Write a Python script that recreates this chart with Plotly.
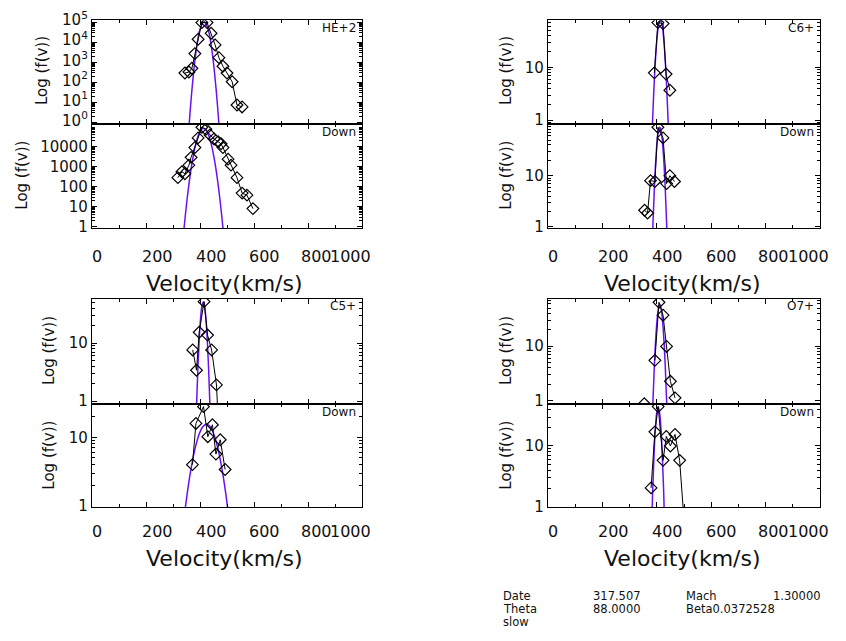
import plotly.graph_objects as go

# Body keeps its default 8px left/right margin; top/bottom margins are removed by post_script,
# so the page is exactly 846x641.
PAGE_W, PAGE_H, OFF_X = 846, 641, 8
W, H = PAGE_W - 2 * OFF_X, PAGE_H
FONT = "DejaVu Sans"
FIT_COLOR = "#6c10f4"
INK = "#111111"

# ---------------- data (velocity km/s, f(v)) ----------------
HE2_UP_V = [344, 359, 370, 381, 393, 407, 426, 441, 456, 470, 485, 500, 519, 537, 556]
HE2_UP_F = [290, 325, 500, 2700, 14000, 95000, 95000, 28000, 7300, 1700, 630, 290, 107, 7.4, 5.9]
HE2_UP_FIT_V = [340, 355, 370, 385, 400, 415, 430, 445, 460, 475, 490]
HE2_UP_FIT_F = [3e-5, 0.087, 40, 3200, 44000, 105000, 44000, 3200, 40, 0.087, 3e-5]

HE2_DN_V = [318, 333, 344, 359, 367, 381, 393, 407, 422, 437, 452, 467, 478, 485, 504, 515, 537, 556, 574, 596]
HE2_DN_F = [285, 560, 447, 1200, 2950, 9100, 27600, 94000, 75000, 39000, 24500, 17800, 14000, 9100, 2400, 1200, 285, 48, 38, 8.1]
HE2_DN_FIT_V = [323, 338, 353, 368, 383, 398, 413, 428, 443, 458, 473, 488, 503]
HE2_DN_FIT_F = [0.0014, 0.33, 29, 950, 11400, 50000, 83000, 50000, 11400, 950, 29, 0.33, 0.0014]

C6_UP_V = [391, 404, 423, 434, 448]
C6_UP_F = [7.9, 71, 68, 7.5, 3.7]
C6_UP_FIT_V = [377, 383, 389, 395, 401, 407, 413, 419, 425, 431, 437, 443, 449]
C6_UP_FIT_F = [0.079, 0.65, 3.6, 14, 37, 66, 79, 66, 37, 14, 3.6, 0.65, 0.079]

C6_DN_V = [355, 366, 377, 393, 404, 423, 436, 448, 465]
C6_DN_F = [2.1, 1.86, 8.0, 7.7, 89, 55, 7.0, 10, 7.7]
C6_DN_FIT_V = [376, 381, 386, 391, 396, 401, 406, 411, 416, 421, 426, 431, 436, 441, 446]
C6_DN_FIT_F = [0.019, 0.18, 1.2, 5.7, 19, 45, 75, 89, 75, 45, 19, 5.7, 1.2, 0.18, 0.019]

C5_UP_V = [373, 387, 397, 415, 428, 443, 461, 470]
C5_UP_F = [7.6, 3.4, 15.3, 51.5, 13.7, 7.6, 1.9, 0.26]
C5_UP_FIT_V = [377, 382, 387, 392, 397, 402, 407, 412, 417, 422, 427, 432, 437, 442, 447]
C5_UP_FIT_F = [0.014, 0.12, 0.78, 3.5, 11.4, 26, 43, 51, 43, 26, 11.4, 3.5, 0.78, 0.12, 0.014]

C5_DN_V = [372, 385, 413, 429, 446, 459, 475, 493]
C5_DN_F = [4.0, 15.9, 27.9, 10.2, 15.2, 5.7, 9.2, 3.4]
C5_DN_FIT_V = [319, 334, 349, 364, 379, 394, 409, 424, 439, 454, 469, 484, 499, 514, 529]
C5_DN_FIT_F = [0.10, 0.39, 1.19, 3.0, 6.2, 10.3, 14.0, 15.6, 14.0, 10.3, 6.2, 3.0, 1.19, 0.39, 0.10]

O7_UP_V = [354, None, 393, 408, 423, 436, 450, 467]
O7_UP_F = [0.88, None, 5.5, 64, 37, 9.9, 2.27, 1.13]
O7_UP_FIT_V = [376, 381, 386, 391, 396, 401, 406, 411, 416, 421, 426, 431, 436, 441, 446]
O7_UP_FIT_F = [0.021, 0.17, 1.02, 4.4, 13.5, 30, 49, 58, 49, 30, 13.5, 4.4, 1.02, 0.17, 0.021]

O7_DN_V = [379, 393, 405, 423, 435, 450, 467, 484, 505]
O7_DN_F = [2.04, 17.1, 44.6, 5.8, 14.4, 10, 15.5, 5.8, 0.3]
O7_DN_FIT_V = [375, 380, 385, 390, 395, 400, 405, 410, 415, 420, 425, 430, 435]
O7_DN_FIT_F = [0.038, 0.33, 1.9, 7.5, 20, 36, 44, 36, 20, 7.5, 1.9, 0.33, 0.038]

SPECIES = ["HE+2", "C6+", "C5+", "O7+"]
LOWER_LABEL = "Down"
X_TICKS = [0, 200, 400, 600, 800, 1000]
X_TICK_TEXT = ["0", "200", "400", "600", "800", "1000"]
X_TITLE = "Velocity(km/s)"
Y_TITLE = "Log (f(v))"
INFO_ROWS = [["Date", "317.507", "Mach", "1.30000"],
             ["Theta", "88.0000", "Beta0.0372528", ""],
             ["slow", "", "", ""]]


# ---------------- layout helpers (page pixels -> paper fractions) ----------------
def px_x(x):
    return (x - OFF_X) / W


def px_y(y):
    return 1 - y / H


LEFT = [px_x(92), px_x(362)]
RIGHT = [px_x(548), px_x(820)]
ROW1_UP = [px_y(117), px_y(9.5)]
ROW1_DN = [px_y(224), px_y(117)]
ROW2_UP = [px_y(405.5), px_y(297)]
ROW2_DN = [px_y(512), px_y(405.5)]

sup = lambda k: "10<sup>%d</sup>" % k

panels = [
    dict(v=HE2_UP_V, f=HE2_UP_F, fv=HE2_UP_FIT_V, ff=HE2_UP_FIT_F, xd=LEFT, yd=ROW1_UP,
         yr=[-0.097, 5.097], tv=[1, 10, 100, 1000, 1e4, 1e5], tt=[sup(k) for k in range(6)],
         label=SPECIES[0], lower=False, shift=-2),
    dict(v=HE2_DN_V, f=HE2_DN_F, fv=HE2_DN_FIT_V, ff=HE2_DN_FIT_F, xd=LEFT, yd=ROW1_DN,
         yr=[-0.063, 5.119], tv=[1, 10, 100, 1000, 10000], tt=["1", "10", "100", "1000", "10000"],
         label=LOWER_LABEL, lower=True, lab_y=253, title_y=281),
    dict(v=C6_UP_V, f=C6_UP_F, fv=C6_UP_FIT_V, ff=C6_UP_FIT_F, xd=RIGHT, yd=ROW1_UP,
         yr=[-0.079, 1.897], tv=[1, 10], tt=["1", "10"], label=SPECIES[1], lower=False),
    dict(v=C6_DN_V, f=C6_DN_F, fv=C6_DN_FIT_V, ff=C6_DN_FIT_F, xd=RIGHT, yd=ROW1_DN,
         yr=[-0.025, 2.006], tv=[1, 10], tt=["1", "10"], label=LOWER_LABEL, lower=True,
         lab_y=253, title_y=281),
    dict(v=C5_UP_V, f=C5_UP_F, fv=C5_UP_FIT_V, ff=C5_UP_FIT_F, xd=LEFT, yd=ROW2_UP,
         yr=[-0.047, 1.762], tv=[1, 10], tt=["1", "10"], label=SPECIES[2], lower=False),
    dict(v=C5_DN_V, f=C5_DN_F, fv=C5_DN_FIT_V, ff=C5_DN_FIT_F, xd=LEFT, yd=ROW2_DN,
         yr=[-0.014, 1.486], tv=[1, 10], tt=["1", "10"], label=LOWER_LABEL, lower=True,
         lab_y=537, title_y=565),
    dict(v=O7_UP_V, f=O7_UP_F, fv=O7_UP_FIT_V, ff=O7_UP_FIT_F, xd=RIGHT, yd=ROW2_UP,
         yr=[-0.057, 1.870], tv=[1, 10], tt=["1", "10"], label=SPECIES[3], lower=False),
    dict(v=O7_DN_V, f=O7_DN_F, fv=O7_DN_FIT_V, ff=O7_DN_FIT_F, xd=RIGHT, yd=ROW2_DN,
         yr=[-0.005, 1.694], tv=[1, 10], tt=["1", "10"], label=LOWER_LABEL, lower=True,
         lab_y=537, title_y=565),
]

# IDL-style label placement offsets (px) for the x tick labels
X_LABEL_SHIFT = [5, 11, 11, 10, 8, -12]
minor_y = [m * 10 ** k for k in range(-1, 6) for m in range(2, 10)]

fig = go.Figure()
layout = dict(
    width=W, height=H, margin=dict(l=0, r=0, t=0, b=0), autosize=False,
    paper_bgcolor="white", plot_bgcolor="white", showlegend=False,
    font=dict(family=FONT, color=INK),
)
annotations = []

for i, p in enumerate(panels):
    n = i + 1
    xa = "x" if n == 1 else "x%d" % n
    ya = "y" if n == 1 else "y%d" % n
    fig.add_trace(go.Scatter(
        x=p["fv"], y=p["ff"], xaxis=xa, yaxis=ya, mode="lines",
        line=dict(color=FIT_COLOR, width=1.5, shape="spline", smoothing=1.0),
        hoverinfo="skip"))
    fig.add_trace(go.Scatter(
        x=p["v"], y=p["f"], xaxis=xa, yaxis=ya, mode="lines+markers",
        line=dict(color="black", width=1),
        marker=dict(symbol="diamond-open", size=9, color="black", line=dict(width=1.2, color="black")),
        hoverinfo="skip"))

    xkey = "xaxis" if n == 1 else "xaxis%d" % n
    ykey = "yaxis" if n == 1 else "yaxis%d" % n
    layout[xkey] = dict(
        domain=p["xd"], anchor=ya, range=[0, 1000], tickmode="array", tickvals=X_TICKS,
        showticklabels=False,
        ticks="inside", ticklen=5, tickwidth=1, tickcolor="black",
        minor=dict(ticks="inside", ticklen=3, tickwidth=1, tickcolor="black", dtick=100),
        showline=True, linecolor="black", linewidth=1.3, mirror="ticks",
        showgrid=False, zeroline=False,
    )
    layout[ykey] = dict(
        domain=p["yd"], anchor=xa, type="log", range=p["yr"], tickmode="array",
        tickvals=p["tv"], ticktext=p["tt"],
        ticks="inside", ticklen=5, tickwidth=1, tickcolor="black",
        minor=dict(ticks="inside", ticklen=3, tickwidth=1, tickcolor="black",
                   tickmode="array", tickvals=minor_y),
        showline=True, linecolor="black", linewidth=1.3, mirror="ticks",
        showgrid=False, zeroline=False, ticklabeloverflow="allow",
        ticklabelshift=p.get("shift", 0),
        tickfont=dict(size=15, family=FONT, color=INK),
    )
    annotations.append(dict(
        text=p["label"], xref="paper", yref="paper", showarrow=False,
        x=p["xd"][1] - 4 / W, y=p["yd"][1] - 8 / H, xanchor="right", yanchor="middle",
        font=dict(size=12, family=FONT, color=INK)))
    if p["lower"]:
        for t, txt, sh in zip(X_TICKS, X_TICK_TEXT, X_LABEL_SHIFT):
            annotations.append(dict(
                text=txt, xref=xa, yref="paper", x=t, y=px_y(p["lab_y"]), xshift=sh,
                showarrow=False, xanchor="center", yanchor="middle", borderpad=0,
                font=dict(size=16, family=FONT, color=INK)))
        annotations.append(dict(
            text=X_TITLE, xref="paper", yref="paper", showarrow=False,
            x=(p["xd"][0] + p["xd"][1]) / 2 - 2 / W, y=px_y(p["title_y"]),
            xanchor="center", yanchor="middle", font=dict(size=22, family=FONT, color=INK)))

ytitle_pos = [(42, 62), (22, 170), (506, 62), (506, 170), (49, 351), (49, 459), (506, 351), (506, 459)]
for (x, y) in ytitle_pos:
    annotations.append(dict(text=Y_TITLE, xref="paper", yref="paper", showarrow=False,
                            x=px_x(x), y=px_y(y), xanchor="center", yanchor="middle", textangle=-90,
                            font=dict(size=15, family=FONT, color=INK)))
col_x = [502, 592, 685, 772]
row_y = [603.5, 617.5, 631]
for r, row in enumerate(INFO_ROWS):
    for c, txt in enumerate(row):
        if txt:
            annotations.append(dict(text=txt, xref="paper", yref="paper", showarrow=False,
                                    x=px_x(col_x[c]), y=px_y(row_y[r]), xanchor="left", yanchor="middle",
                                    borderpad=0, font=dict(size=11.5, family=FONT, color=INK)))

layout["annotations"] = annotations
fig.update_layout(**layout)
fig.write_html("out.html", config={"displayModeBar": False},
               post_script="document.body.style.marginTop='0px';document.body.style.marginBottom='0px';")
